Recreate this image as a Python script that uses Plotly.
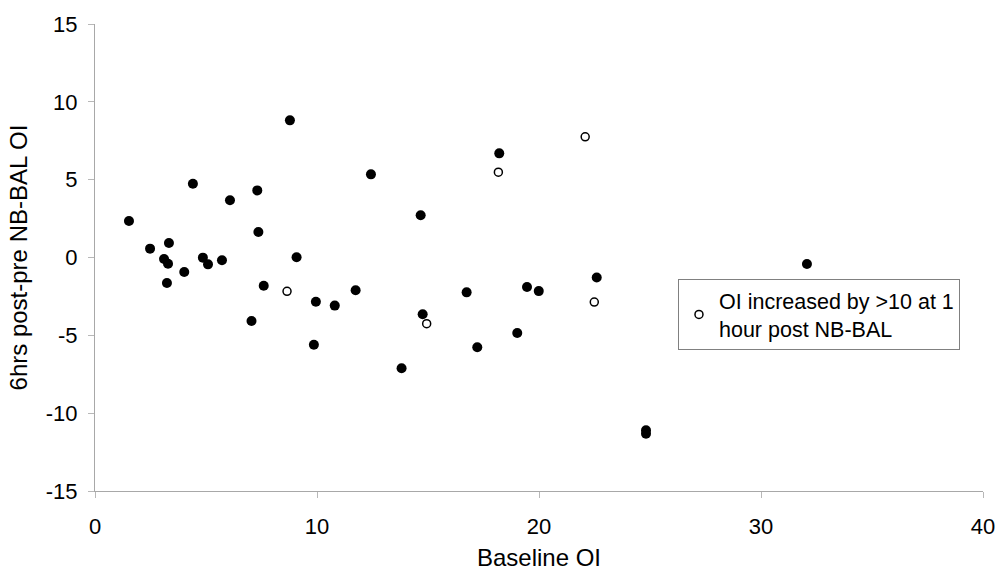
import plotly.graph_objects as go

# Filled points: all patients
baseline_oi = [1.53, 2.48, 3.33, 3.11, 3.29, 3.24, 4.02, 4.41, 4.86, 5.09, 5.72, 6.08,
               7.05, 7.31, 7.36, 7.60, 8.78, 9.08, 9.95, 9.86, 10.80, 11.74, 12.43,
               13.81, 14.67, 14.76, 16.74, 17.22, 18.21, 19.02, 19.46, 19.99, 22.60,
               24.82, 24.82, 32.07]
change_oi = [2.34, 0.57, 0.93, -0.10, -0.40, -1.64, -0.93, 4.74, -0.01, -0.44, -0.18, 3.68,
             -4.08, 4.31, 1.64, -1.81, 8.81, 0.02, -2.84, -5.60, -3.09, -2.10, 5.34,
             -7.12, 2.71, -3.65, -2.24, -5.77, 6.69, -4.85, -1.90, -2.16, -1.29,
             -11.10, -11.32, -0.42]

# Open points: OI increased by >10 at 1 hour post NB-BAL
baseline_oi_inc = [8.65, 14.94, 18.17, 22.08, 22.49]
change_oi_inc = [-2.17, -4.25, 5.48, 7.75, -2.86]

x_ticks = [0, 10, 20, 30, 40]
y_ticks = [-15, -10, -5, 0, 5, 10, 15]
y_tick_text = ["-15", "-10", "-5", "0", "5", "10", "15"]

legend_label = "OI increased by >10 at 1<br>hour post NB-BAL"

FONT = "Liberation Sans, Arial, sans-serif"

fig = go.Figure()
fig.add_trace(go.Scatter(
    x=baseline_oi, y=change_oi, mode="markers",
    marker=dict(symbol="circle", size=10, color="black", line=dict(width=0)),
    showlegend=False, name="All"))
fig.add_trace(go.Scatter(
    x=baseline_oi_inc, y=change_oi_inc, mode="markers",
    marker=dict(symbol="circle-open", size=8, color="black", line=dict(width=1.5)),
    showlegend=True, name=legend_label))

tick_font = dict(family=FONT, size=22, color="black")
fig.update_layout(
    width=998, height=571,
    margin=dict(l=95, r=15, t=24, b=80),
    plot_bgcolor="white", paper_bgcolor="white",
    font=dict(family=FONT, color="black"),
    xaxis=dict(range=[0, 40], tickvals=x_ticks, showgrid=False, zeroline=False,
               automargin=False,
               showline=True, linecolor="#a8a8a8", linewidth=1, ticks="outside",
               ticklen=6, tickcolor="#b8b8b8", tickfont=tick_font, ticklabelstandoff=10,
               title=dict(text="Baseline OI", font=dict(size=24, family=FONT), standoff=21)),
    yaxis=dict(range=[-15, 15], tickvals=y_ticks, ticktext=y_tick_text,
               showgrid=False, zeroline=False, automargin=False,
               showline=True, linecolor="#a8a8a8", linewidth=1, ticks="outside",
               ticklen=6, tickcolor="#b8b8b8", tickfont=tick_font, ticklabelstandoff=6,
               title=dict(text="6hrs post-pre NB-BAL OI", font=dict(size=24, family=FONT), standoff=11)),
    legend=dict(x=0.6565, y=0.454, xanchor="left", yanchor="top",
                bordercolor="#808080", borderwidth=1, bgcolor="white",
                font=dict(size=21.5, family=FONT),
                itemwidth=30),
)

# remove the default page margin so the figure sits at the window's top-left corner
fig.write_html("out.html", config={"displayModeBar": False},
               post_script="document.body.style.margin='0';")
